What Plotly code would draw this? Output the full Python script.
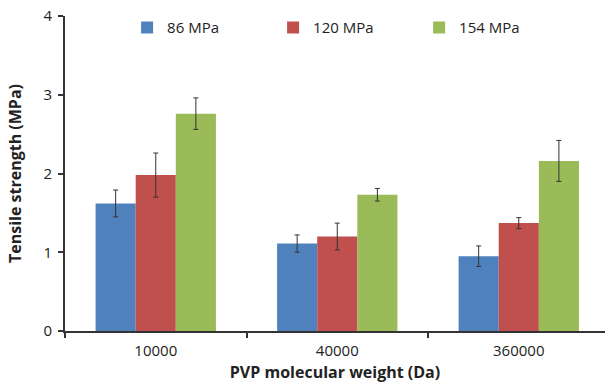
import plotly.graph_objects as go

categories = ["10000", "40000", "360000"]
series_names = ["86 MPa", "120 MPa", "154 MPa"]
values_86 = [1.62, 1.11, 0.95]
values_120 = [1.98, 1.20, 1.37]
values_154 = [2.76, 1.73, 2.16]
err_86 = [0.17, 0.11, 0.13]
err_120 = [0.28, 0.17, 0.07]
err_154 = [0.20, 0.08, 0.26]
colors = ["#4F81BD", "#C0504D", "#9BBB59"]
y_ticks = [0, 1, 2, 3, 4]

fig = go.Figure()
for name, vals, errs, col in zip(series_names, [values_86, values_120, values_154],
                                 [err_86, err_120, err_154], colors):
    fig.add_trace(go.Bar(
        x=categories, y=vals, name=name, marker_color=col, marker_line_width=0,
        error_y=dict(type="data", array=errs, visible=True, color="#333333",
                     thickness=1, width=2.5),
    ))

font_family = "Open Sans, Noto Sans, sans-serif"
fig.update_layout(
    width=605, height=383,
    margin=dict(l=65, r=0, t=16, b=52, autoexpand=False),
    plot_bgcolor="white", paper_bgcolor="white",
    barmode="group", bargap=0.337, bargroupgap=0,
    font=dict(family=font_family, color="#222222", size=14),
    showlegend=True,
    legend=dict(orientation="h", x=0.115, y=1.015, xanchor="left", yanchor="top",
                entrywidth=101, entrywidthmode="pixels", itemwidth=30,
                font=dict(size=15, color="#222222"), bgcolor="rgba(0,0,0,0)",
                tracegroupgap=0),
    xaxis=dict(
        type="category", range=[-0.5, 2.475], automargin=False,
        showline=True, linecolor="#333333", linewidth=2,
        ticks="outside", tickson="boundaries", ticklen=5, tickcolor="#333333",
        tickwidth=1.5, showgrid=False, zeroline=False, ticklabelstandoff=5,
        tickfont=dict(size=15, color="#222222"),
        title=dict(text="<b>PVP molecular weight (Da)</b>", standoff=9,
                   font=dict(size=16, color="#222222")),
    ),
    yaxis=dict(
        range=[0, 4], tickvals=y_ticks, automargin=False,
        showline=True, linecolor="#333333", linewidth=2,
        ticks="outside", ticklen=5, tickcolor="#333333", tickwidth=1.5,
        showgrid=False, zeroline=False, ticklabelstandoff=3,
        tickfont=dict(size=15, color="#222222"),
        title=dict(text="<b>Tensile strength (MPa)</b>", standoff=18,
                   font=dict(size=16, color="#222222")),
    ),
)

fig.write_html("out.html", config={"displayModeBar": False},
               post_script="document.body.style.margin='0';document.body.style.overflow='hidden';")
